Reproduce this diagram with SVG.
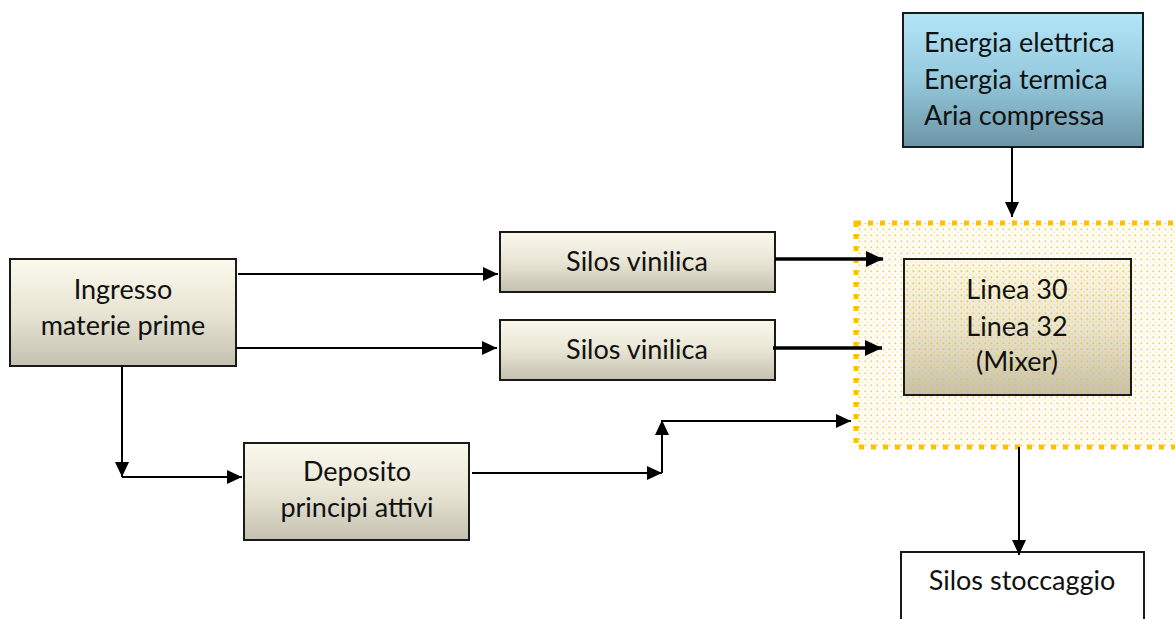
<svg xmlns="http://www.w3.org/2000/svg" width="1175" height="619" viewBox="0 0 1175 619">
<style>
.t{font-family:Lato,"Liberation Sans",sans-serif;font-size:27px;fill:#111;}
.c{text-anchor:middle;}
.box{stroke:#1a1a1a;stroke-width:2;}
.ln{fill:none;stroke:#000;stroke-width:2;}
.lt{fill:none;stroke:#000;stroke-width:3.5;}
</style>
<defs>
<linearGradient id="beige" x1="0" y1="0" x2="0" y2="1">
<stop offset="0" stop-color="#fbf9ec"/>
<stop offset="0.5" stop-color="#e8e5d4"/>
<stop offset="1" stop-color="#c4c1b0"/>
</linearGradient>
<linearGradient id="blue" x1="0" y1="0" x2="0" y2="1">
<stop offset="0" stop-color="#b4e6f8"/>
<stop offset="0.5" stop-color="#94c8dc"/>
<stop offset="1" stop-color="#6c95a5"/>
</linearGradient>
<pattern id="dots" width="6" height="6" patternUnits="userSpaceOnUse">
<rect x="0.5" y="0.5" width="1.7" height="1.7" fill="#ffc000" opacity="0.8"/>
<rect x="3.5" y="3.5" width="1.2" height="1.2" fill="#ffc000" opacity="0.55"/>
</pattern>
<marker id="ah" markerWidth="16" markerHeight="14" refX="15" refY="7" orient="auto" markerUnits="userSpaceOnUse">
<path d="M0,0 L15,7 L0,14 Z" fill="#000"/>
</marker>
<marker id="ahb" markerWidth="18" markerHeight="16" refX="17" refY="8" orient="auto" markerUnits="userSpaceOnUse">
<path d="M0,0 L17,8 L0,16 Z" fill="#000"/>
</marker>
</defs>
<rect width="1175" height="619" fill="#fff"/>

<g id="linea">
<rect x="856" y="223" width="330" height="224" fill="#fff"/>
<rect x="904" y="259" width="227" height="136" fill="url(#beige)"/>
<rect x="856" y="223" width="330" height="224" fill="url(#dots)"/>
<rect x="904" y="259" width="227" height="136" fill="none" class="box"/>
<rect x="856" y="223" width="330" height="224" fill="none" stroke="#ffc000" stroke-width="5" stroke-dasharray="5 7"/>
<text class="t c" x="1017" y="299">Linea 30</text>
<text class="t c" x="1017" y="336">Linea 32</text>
<text class="t c" x="1017" y="371">(Mixer)</text>
</g>

<g id="energia">
<rect x="903" y="13" width="240" height="134" fill="url(#blue)" class="box"/>
<text class="t" x="924" y="52">Energia elettrica</text>
<text class="t" x="924" y="89">Energia termica</text>
<text class="t" x="924" y="125">Aria compressa</text>
</g>

<g id="ingresso">
<rect x="10" y="259" width="226" height="107" fill="url(#beige)" class="box"/>
<text class="t c" x="123" y="299">Ingresso</text>
<text class="t c" x="123" y="335">materie prime</text>
</g>

<g id="silos1">
<rect x="500" y="232" width="275" height="60" fill="url(#beige)" class="box"/>
<text class="t c" x="637" y="271">Silos vinilica</text>
</g>

<g id="silos2">
<rect x="500" y="320" width="275" height="60" fill="url(#beige)" class="box"/>
<text class="t c" x="637" y="359">Silos vinilica</text>
</g>

<g id="deposito">
<rect x="244" y="443" width="225" height="97" fill="url(#beige)" class="box"/>
<text class="t c" x="357" y="481">Deposito</text>
<text class="t c" x="357" y="517">principi attivi</text>
</g>

<g id="stoccaggio">
<rect x="901" y="552" width="243" height="80" fill="#fff" class="box"/>
<text class="t c" x="1022" y="590">Silos stoccaggio</text>
</g>

<g id="connectors">
<path class="ln" d="M238,274 H498" marker-end="url(#ah)"/>
<path class="ln" d="M236,348 H497" marker-end="url(#ah)"/>
<path class="lt" d="M775,259 H883" marker-end="url(#ahb)"/>
<path class="lt" d="M773,348 H882" marker-end="url(#ahb)"/>
<path class="ln" d="M122,366 V477" marker-end="url(#ah)"/>
<path class="ln" d="M122,477 H242" marker-end="url(#ah)"/>
<path class="ln" d="M472,473 H662" marker-end="url(#ah)"/>
<path class="ln" d="M662,473 V420" marker-end="url(#ah)"/>
<path class="ln" d="M662,421 H851" marker-end="url(#ah)"/>
<path class="ln" d="M1012,147 V217" marker-end="url(#ah)"/>
<path class="ln" d="M1019,447 V555" marker-end="url(#ah)"/>
</g>
</svg>
